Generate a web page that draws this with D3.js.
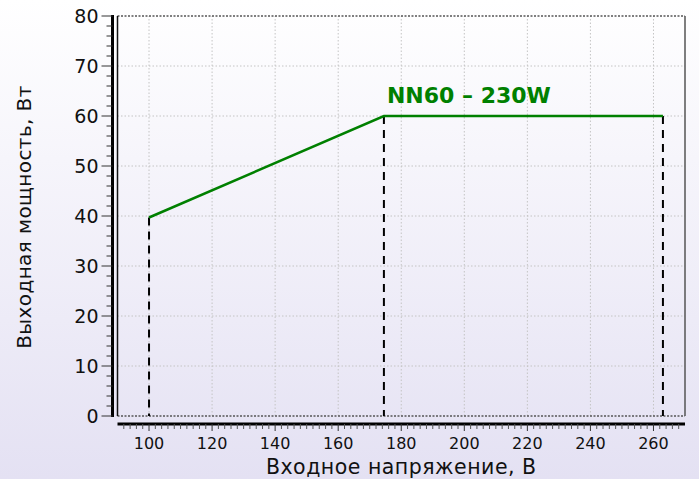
<!DOCTYPE html>
<html>
<head>
<meta charset="utf-8">
<script src="https://cdn.jsdelivr.net/npm/d3@7"></script>
<style>
  body { margin: 0; padding: 0; }
  svg { display: block; }
</style>
</head>
<body>
<div id="chart"></div>
<script>
var w = 699, h = 479;
var margin = {top: 16, right: 14, bottom: 63, left: 117.5};

// data
var voltage = [100, 174.5, 263];
var power = [39.7, 60, 60];
var xTicks = [100, 120, 140, 160, 180, 200, 220, 240, 260];
var yTicks = [0, 10, 20, 30, 40, 50, 60, 70, 80];
var seriesName = "NN60 – 230W";
var xTitle = "Входное напряжение, В";
var yTitle = "Выходная мощность, Вт";

var font = "'DejaVu Sans', Verdana, sans-serif";

var svg = d3.select("#chart").append("svg")
    .attr("width", w)
    .attr("height", h);

// background gradient
var grad = svg.append("defs").append("linearGradient")
    .attr("id", "bg")
    .attr("x1", 0).attr("y1", 0).attr("x2", 0).attr("y2", 1);
grad.append("stop").attr("offset", "0%").attr("stop-color", "#ffffff");
grad.append("stop").attr("offset", "100%").attr("stop-color", "#e4e1f3");

svg.append("rect")
    .attr("width", w).attr("height", h)
    .attr("fill", "url(#bg)");

var xScale = d3.scaleLinear()
    .domain([90, 270])
    .range([margin.left, w - margin.right]);

var yScale = d3.scaleLinear()
    .domain([0, 80])
    .range([h - margin.bottom, margin.top]);

var x0 = xScale(90), x1 = xScale(270);
var y0 = yScale(0), y1 = yScale(80);

// grid
svg.append("g").selectAll("line")
    .data(xTicks)
    .enter().append("line")
    .attr("x1", function(d) { return xScale(d); })
    .attr("x2", function(d) { return xScale(d); })
    .attr("y1", y0).attr("y2", y1)
    .attr("stroke", "#c4c4c4")
    .attr("stroke-width", 1)
    .attr("stroke-dasharray", "1.5,2");

svg.append("g").selectAll("line")
    .data(yTicks.slice(1, -1))
    .enter().append("line")
    .attr("x1", x0).attr("x2", x1)
    .attr("y1", function(d) { return yScale(d); })
    .attr("y2", function(d) { return yScale(d); })
    .attr("stroke", "#c4c4c4")
    .attr("stroke-width", 1)
    .attr("stroke-dasharray", "1.5,2");

// frame
svg.append("line")
    .attr("x1", x0).attr("x2", x1).attr("y1", y1).attr("y2", y1)
    .attr("stroke", "#555").attr("stroke-width", 1.5)
    .attr("stroke-dasharray", "2,1.5");
svg.append("line")
    .attr("x1", x0).attr("x2", x1).attr("y1", y0).attr("y2", y0)
    .attr("stroke", "#555").attr("stroke-width", 1.5)
    .attr("stroke-dasharray", "2,1.5");
svg.append("line")
    .attr("x1", x0).attr("x2", x0).attr("y1", y1).attr("y2", y0)
    .attr("stroke", "#111").attr("stroke-width", 1.5);
svg.append("line")
    .attr("x1", x1).attr("x2", x1).attr("y1", y1).attr("y2", y0)
    .attr("stroke", "#555").attr("stroke-width", 1.5);

// dashed drops
svg.append("g").selectAll("line")
    .data(voltage)
    .enter().append("line")
    .attr("x1", function(d) { return xScale(d); })
    .attr("x2", function(d) { return xScale(d); })
    .attr("y1", function(d, i) { return yScale(power[i]); })
    .attr("y2", y0)
    .attr("stroke", "#000")
    .attr("stroke-width", 2)
    .attr("stroke-dasharray", "8,6");

// series line
var line = d3.line()
    .x(function(d) { return xScale(d[0]); })
    .y(function(d) { return yScale(d[1]); });

svg.append("path")
    .datum(d3.zip(voltage, power))
    .attr("d", line)
    .attr("fill", "none")
    .attr("stroke", "#008000")
    .attr("stroke-width", 2.5);

svg.append("text")
    .attr("x", xScale(voltage[1]) + 3)
    .attr("y", yScale(power[1]) - 13)
    .attr("font-family", font)
    .attr("font-weight", "bold")
    .attr("font-size", 22)
    .attr("fill", "#008000")
    .text(seriesName);

// y axis (offset left of frame)
var yAxisX = x0 - 5;
var yAxis = svg.append("g")
    .attr("transform", "translate(" + yAxisX + ",0)");
yAxis.append("line")
    .attr("x1", 0).attr("x2", 0).attr("y1", y1 - 1).attr("y2", y0 + 1)
    .attr("stroke", "#000").attr("stroke-width", 3);
yAxis.selectAll(".minor")
    .data(d3.range(0, 81, 2).filter(function(d) { return d % 10 !== 0; }))
    .enter().append("line")
    .attr("x1", -6).attr("x2", 0)
    .attr("y1", function(d) { return yScale(d); })
    .attr("y2", function(d) { return yScale(d); })
    .attr("stroke", "#333").attr("stroke-width", 1);
yAxis.selectAll(".major")
    .data(yTicks)
    .enter().append("line")
    .attr("x1", -11).attr("x2", 0)
    .attr("y1", function(d) { return yScale(d); })
    .attr("y2", function(d) { return yScale(d); })
    .attr("stroke", "#333").attr("stroke-width", 1);
yAxis.selectAll("text")
    .data(yTicks)
    .enter().append("text")
    .attr("x", -14)
    .attr("y", function(d) { return yScale(d); })
    .attr("dy", "0.36em")
    .attr("text-anchor", "end")
    .attr("font-family", font)
    .attr("font-size", 19)
    .attr("fill", "#111")
    .text(function(d) { return d; });

// x axis (offset below frame)
var xAxisY = y0 + 8;
var xAxis = svg.append("g")
    .attr("transform", "translate(0," + xAxisY + ")");
xAxis.append("line")
    .attr("x1", x0).attr("x2", x1).attr("y1", 0).attr("y2", 0)
    .attr("stroke", "#000").attr("stroke-width", 3);
xAxis.selectAll(".minor")
    .data(d3.range(92, 270, 2).filter(function(d) { return d % 20 !== 0; }))
    .enter().append("line")
    .attr("y1", 0).attr("y2", 5)
    .attr("x1", function(d) { return xScale(d); })
    .attr("x2", function(d) { return xScale(d); })
    .attr("stroke", "#555").attr("stroke-width", 1);
xAxis.selectAll(".major")
    .data(xTicks)
    .enter().append("line")
    .attr("y1", 0).attr("y2", 7)
    .attr("x1", function(d) { return xScale(d); })
    .attr("x2", function(d) { return xScale(d); })
    .attr("stroke", "#333").attr("stroke-width", 1);
xAxis.selectAll("text")
    .data(xTicks)
    .enter().append("text")
    .attr("x", function(d) { return xScale(d); })
    .attr("y", 25)
    .attr("text-anchor", "middle")
    .attr("font-family", font)
    .attr("font-size", 16)
    .attr("fill", "#111")
    .text(function(d) { return d; });

// titles
svg.append("text")
    .attr("x", (x0 + x1) / 2)
    .attr("y", 474)
    .attr("text-anchor", "middle")
    .attr("font-family", font)
    .attr("font-size", 20.5)
    .attr("letter-spacing", 0.5)
    .attr("fill", "#111")
    .text(xTitle);

svg.append("text")
    .attr("transform", "translate(31," + 217 + ") rotate(-90)")
    .attr("text-anchor", "middle")
    .attr("font-family", font)
    .attr("font-size", 20)
    .attr("letter-spacing", 0.4)
    .attr("fill", "#111")
    .text(yTitle);
</script>
</body>
</html>
